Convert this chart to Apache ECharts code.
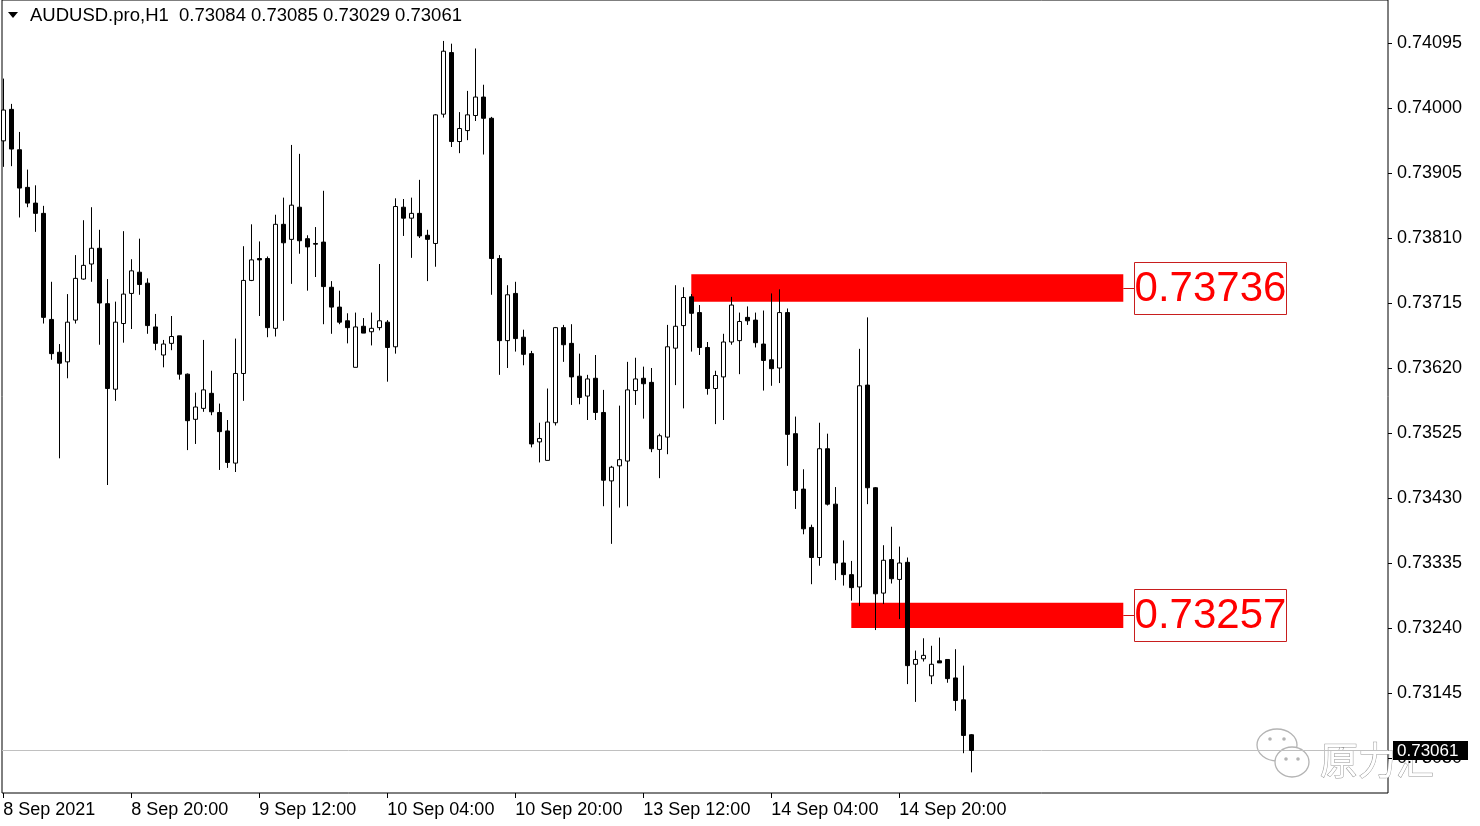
<!DOCTYPE html>
<html>
<head>
<meta charset="utf-8">
<script src="https://cdn.jsdelivr.net/npm/echarts@6/dist/echarts.min.js"></script>
<style>
  html, body { margin: 0; padding: 0; background: #fff; }
  #chart { width: 1480px; height: 826px; }
</style>
</head>
<body>
<div id="chart"></div>
<script>
// ---- Data (AUDUSD.pro, H1) ----
const symbolName = 'AUDUSD.pro';
const timeframe = 'H1';
const opens = [
  0.73952,0.73998,0.73939,0.73884,0.73861,0.73846,0.73691,0.73643,0.73629,0.73690,
  0.73750,0.73772,0.73795,0.73714,0.73589,0.73685,0.73729,0.73760,0.73744,0.73680,
  0.73639,0.73656,0.73667,0.73611,0.73545,0.73561,0.73583,0.73555,0.73528,0.73481,
  0.73612,0.73748,0.73780,0.73780,0.73678,0.73830,0.73808,0.73855,0.73809,0.73802,
  0.73804,0.73738,0.73709,0.73689,0.73621,0.73681,0.73673,0.73679,0.73687,0.73651,
  0.73855,0.73839,0.73846,0.73814,0.73802,0.73991,0.74081,0.73951,0.73967,0.73989,
  0.74016,0.73985,0.73780,0.73660,0.73729,0.73665,0.73641,0.73512,0.73485,0.73540,
  0.73679,0.73656,0.73608,0.73579,0.73605,0.73555,0.73455,0.73477,0.73484,0.73587,
  0.73605,0.73599,0.73501,0.73519,0.73649,0.73682,0.73724,0.73701,0.73650,0.73590,
  0.73607,0.73658,0.73660,0.73694,0.73690,0.73655,0.73632,0.73620,0.73701,0.73524,
  0.73443,0.73387,0.73343,0.73502,0.73421,0.73335,0.73318,0.73300,0.73595,0.73445,
  0.73291,0.73340,0.73311,0.73336,0.73187,0.73195,0.73170,0.73192,0.73194,0.73167,
  0.73135,0.73084
];
const highs = [
  0.74043,0.74006,0.73965,0.73910,0.73887,0.73857,0.73746,0.73655,0.73728,0.73785,
  0.73836,0.73855,0.73822,0.73750,0.73717,0.73820,0.73779,0.73809,0.73751,0.73699,
  0.73661,0.73696,0.73667,0.73612,0.73584,0.73661,0.73616,0.73568,0.73544,0.73663,
  0.73798,0.73830,0.73805,0.73783,0.73844,0.73869,0.73946,0.73933,0.73814,0.73826,
  0.73879,0.73747,0.73733,0.73700,0.73701,0.73693,0.73701,0.73772,0.73690,0.73868,
  0.73867,0.73869,0.73895,0.73822,0.73991,0.74098,0.74094,0.73994,0.74025,0.74087,
  0.74034,0.73987,0.73785,0.73741,0.73746,0.73676,0.73645,0.73540,0.73590,0.73680,
  0.73683,0.73684,0.73641,0.73610,0.73639,0.73588,0.73477,0.73565,0.73629,0.73635,
  0.73622,0.73620,0.73524,0.73683,0.73741,0.73738,0.73728,0.73712,0.73658,0.73616,
  0.73670,0.73724,0.73701,0.73710,0.73701,0.73704,0.73729,0.73735,0.73707,0.73549,
  0.73472,0.73391,0.73540,0.73524,0.73446,0.73368,0.73338,0.73648,0.73694,0.73446,
  0.73361,0.73388,0.73359,0.73343,0.73207,0.73225,0.73214,0.73226,0.73194,0.73209,
  0.73185,0.73085
];
const lows = [
  0.73914,0.73915,0.73840,0.73855,0.73819,0.73685,0.73632,0.73488,0.73605,0.73685,
  0.73749,0.73746,0.73654,0.73449,0.73572,0.73657,0.73677,0.73727,0.73670,0.73646,
  0.73621,0.73646,0.73603,0.73500,0.73509,0.73556,0.73551,0.73471,0.73474,0.73468,
  0.73572,0.73747,0.73696,0.73665,0.73666,0.73689,0.73743,0.73787,0.73733,0.73753,
  0.73684,0.73670,0.73684,0.73656,0.73621,0.73671,0.73653,0.73675,0.73600,0.73641,
  0.73813,0.73781,0.73810,0.73747,0.73768,0.73986,0.73943,0.73934,0.73953,0.73981,
  0.73932,0.73727,0.73610,0.73620,0.73644,0.73624,0.73504,0.73482,0.73485,0.73536,
  0.73629,0.73566,0.73567,0.73544,0.73544,0.73418,0.73363,0.73416,0.73418,0.73566,
  0.73546,0.73497,0.73459,0.73494,0.73595,0.73561,0.73644,0.73639,0.73581,0.73538,
  0.73544,0.73654,0.73611,0.73683,0.73650,0.73587,0.73594,0.73598,0.73477,0.73414,
  0.73377,0.73304,0.73331,0.73419,0.73310,0.73302,0.73280,0.73272,0.73421,0.73237,
  0.73275,0.73305,0.73253,0.73158,0.73132,0.73191,0.73158,0.73189,0.73160,0.73119,
  0.73057,0.73029
];
const closes = [
  0.73997,0.73940,0.73883,0.73861,0.73846,0.73694,0.73641,0.73627,0.73687,0.73751,
  0.73770,0.73795,0.73715,0.73590,0.73687,0.73728,0.73762,0.73742,0.73682,0.73656,
  0.73655,0.73666,0.73611,0.73543,0.73563,0.73588,0.73556,0.73527,0.73482,0.73612,
  0.73748,0.73778,0.73778,0.73679,0.73830,0.73803,0.73858,0.73806,0.73797,0.73801,
  0.73739,0.73709,0.73687,0.73679,0.73680,0.73671,0.73678,0.73689,0.73650,0.73856,
  0.73839,0.73846,0.73813,0.73808,0.73990,0.74083,0.73951,0.73970,0.73990,0.74016,
  0.73985,0.73780,0.73660,0.73727,0.73663,0.73640,0.73509,0.73517,0.73541,0.73679,
  0.73654,0.73607,0.73577,0.73604,0.73555,0.73456,0.73475,0.73486,0.73588,0.73604,
  0.73597,0.73502,0.73521,0.73651,0.73681,0.73723,0.73700,0.73650,0.73590,0.73609,
  0.73658,0.73712,0.73688,0.73689,0.73657,0.73631,0.73619,0.73701,0.73523,0.73441,
  0.73385,0.73343,0.73502,0.73421,0.73335,0.73318,0.73299,0.73594,0.73445,0.73290,
  0.73339,0.73312,0.73335,0.73185,0.73194,0.73200,0.73187,0.73189,0.73166,0.73134,
  0.73083,0.73061
];
// time-axis labels (bar index where each label sits)
const timeTickIndex = [0, 16, 32, 48, 64, 80, 96, 112];
const timeTickLabels = ['8 Sep 2021', '8 Sep 20:00', '9 Sep 12:00', '10 Sep 04:00',
                        '10 Sep 20:00', '13 Sep 12:00', '14 Sep 04:00', '14 Sep 20:00'];
// price-axis labels
const priceTicks = [0.73050, 0.73145, 0.73240, 0.73335, 0.73430, 0.73525, 0.73620,
                    0.73715, 0.73810, 0.73905, 0.74000, 0.74095];
// drawn zones (start bar, end bar, upper price, lower price, label)
const zoneStart = [86, 106];
const zoneEnd = [140, 140];
const zoneTop = [0.73757, 0.73277];
const zoneBottom = [0.73717, 0.73240];
const zoneLabel = [0.73736, 0.73257];

// ---- Chart ----
const FONT = '"Liberation Sans", Arial, sans-serif';
const chart = echarts.init(document.getElementById('chart'), null, { renderer: 'canvas' });
const last = closes.length - 1;
const candleData = opens.map((o, i) => [i, o, closes[i], lows[i], highs[i]]);
const zoneData = zoneStart.map((s, i) => [s, zoneEnd[i], zoneTop[i], zoneBottom[i], zoneLabel[i]]);
const headerText = symbolName + ',' + timeframe + '  ' +
  [opens[last], highs[last], lows[last], closes[last]].map(v => v.toFixed(5)).join(' ');

const option = {
  animation: false,
  backgroundColor: '#fff',
  textStyle: { fontFamily: FONT },
  grid: { left: 2, top: 0, width: 1386, height: 793, show: true,
          borderColor: '#000', borderWidth: 1, backgroundColor: '#fff' },
  xAxis: {
    type: 'value', min: -0.1625, max: 173.0875,
    axisLine: { show: false, onZero: false }, splitLine: { show: false },
    axisTick: { show: true, customValues: timeTickIndex, length: 5, lineStyle: { color: '#000' } },
    axisLabel: {
      customValues: timeTickIndex, align: 'left', margin: 8, color: '#000',
      fontSize: 18, fontFamily: FONT,
      formatter: v => timeTickLabels[timeTickIndex.indexOf(Math.round(v))] || ''
    }
  },
  yAxis: {
    type: 'value', position: 'right', min: 0.7299885, max: 0.7415785,
    axisLine: { show: false, onZero: false }, splitLine: { show: false },
    axisTick: { show: true, customValues: priceTicks, length: 4, lineStyle: { color: '#000' } },
    axisLabel: {
      customValues: priceTicks, margin: 9, color: '#000', fontSize: 18, fontFamily: FONT,
      formatter: v => v.toFixed(5)
    }
  },
  graphic: [
    { type: 'polygon', z: 10, shape: { points: [[8, 12], [18, 12], [13, 18]] },
      style: { fill: '#000' } },
    { type: 'text', left: 30, top: 6, z: 10,
      style: { text: headerText, fill: '#000', font: '18.5px ' + FONT } },
    // watermark
    { type: 'group', z: 20, children: [
      { type: 'ellipse', shape: { cx: 1277, cy: 745, rx: 20, ry: 16 },
        style: { fill: '#fff', stroke: '#b4b4b4', lineWidth: 1.3 } },
      { type: 'circle', shape: { cx: 1270, cy: 739, r: 1.8 }, style: { fill: '#b4b4b4' } },
      { type: 'circle', shape: { cx: 1284, cy: 739, r: 1.8 }, style: { fill: '#b4b4b4' } },
      { type: 'ellipse', shape: { cx: 1292, cy: 762, rx: 17, ry: 15 },
        style: { fill: '#fff', stroke: '#b4b4b4', lineWidth: 1.3 } },
      { type: 'circle', shape: { cx: 1286, cy: 759, r: 1.8 }, style: { fill: '#b4b4b4' } },
      { type: 'circle', shape: { cx: 1298, cy: 759, r: 1.8 }, style: { fill: '#b4b4b4' } },
      { type: 'text', style: { text: '原力汇', x: 1320, y: 760, verticalAlign: 'middle',
        fill: '#ffffff', stroke: '#969696', lineWidth: 1,
        font: '38px "Noto Sans CJK SC"' } }
    ] }
  ],
  series: [
    {
      type: 'custom',
      z: 1,
      clip: false,
      data: zoneData,
      encode: { x: [0, 1], y: [2, 3] },
      renderItem: function (params, api) {
        const p1 = api.coord([api.value(0), api.value(2)]);
        const p2 = api.coord([api.value(1), api.value(3)]);
        const mid = (p1[1] + p2[1]) / 2;
        const bx = Math.round(p2[0]) + 11.5;
        return {
          type: 'group',
          children: [
            { type: 'rect', shape: { x: p1[0], y: p1[1], width: p2[0] - p1[0], height: p2[1] - p1[1] },
              style: { fill: '#ff0000' } },
            { type: 'line', shape: { x1: p2[0], y1: Math.round(mid) + 0.5, x2: bx, y2: Math.round(mid) + 0.5 },
              style: { stroke: '#d01010', lineWidth: 1 } },
            { type: 'rect', shape: { x: bx, y: Math.round(mid - 26) + 0.5, width: 152, height: 52 },
              style: { fill: '#fff', stroke: '#c81e1e', lineWidth: 1 } },
            { type: 'text', style: { text: api.value(4).toFixed(5), x: bx + 76, y: mid + 1,
              align: 'center', verticalAlign: 'middle', fill: '#ff0000', font: '42px ' + FONT } }
          ]
        };
      }
    },
    {
      // current price line (behind candles)
      type: 'custom',
      z: 2,
      clip: false,
      data: [[last, closes[last]]],
      encode: { x: 0, y: 1 },
      renderItem: function (params, api) {
        const cs = params.coordSys;
        const y = Math.round(api.coord([0, api.value(1)])[1]) + 0.5;
        return { type: 'line', shape: { x1: cs.x, y1: y, x2: cs.x + cs.width, y2: y },
                 style: { stroke: '#c0c0c0', lineWidth: 1 } };
      }
    },
    {
      type: 'candlestick',
      z: 3,
      clip: true,
      barWidth: 4,
      data: candleData,
      encode: { x: 0, y: [1, 2, 3, 4] },
      itemStyle: { color: '#ffffff', color0: '#000000', borderColor: '#000000',
                   borderColor0: '#000000', borderWidth: 1 }
    },
    {
      // current price label on the price axis
      type: 'custom',
      z: 5,
      clip: false,
      data: [[last, closes[last]]],
      encode: { x: 0, y: 1 },
      renderItem: function (params, api) {
        const cs = params.coordSys;
        const y = Math.round(api.coord([0, api.value(1)])[1]) + 0.5;
        const x0 = cs.x + cs.width + 5;
        return { type: 'group', children: [
          { type: 'rect', shape: { x: x0, y: y - 9.5, width: 75, height: 19 }, style: { fill: '#000' } },
          { type: 'text', style: { text: api.value(1).toFixed(5), x: x0 + 4, y: y + 0.5,
            verticalAlign: 'middle', fill: '#fff', font: '17px ' + FONT } }
        ] };
      }
    }
  ]
};
chart.setOption(option);
</script>
</body>
</html>
